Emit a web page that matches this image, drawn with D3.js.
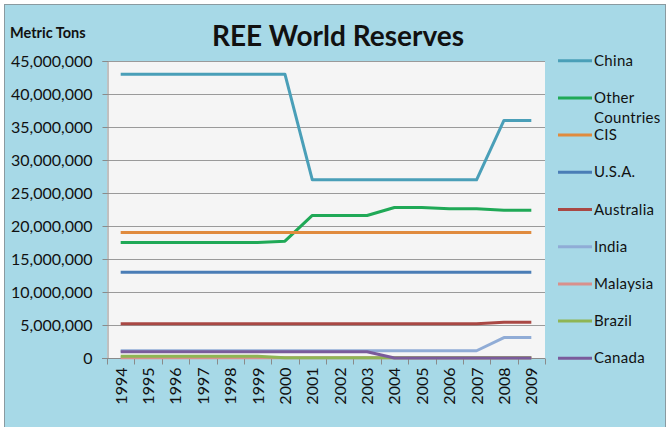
<!DOCTYPE html>
<html>
<head>
<meta charset="utf-8">
<script src="https://cdn.jsdelivr.net/npm/d3@7"></script>
<style>
  body { margin: 0; background: #fff; }
  text { font-family: Lato, "Open Sans", sans-serif; fill: #111; }
</style>
</head>
<body>
<div id="chart"></div>
<script>
// Years on the x axis
var years = ["1994","1995","1996","1997","1998","1999","2000","2001",
             "2002","2003","2004","2005","2006","2007","2008","2009"];

// Reserves in metric tons, one array per country
var china     = [43e6,43e6,43e6,43e6,43e6,43e6,43e6,27e6,27e6,27e6,27e6,27e6,27e6,27e6,36e6,36e6];
var other     = [17.5e6,17.5e6,17.5e6,17.5e6,17.5e6,17.5e6,17.7e6,21.6e6,21.6e6,21.6e6,22.8e6,22.8e6,22.6e6,22.6e6,22.4e6,22.4e6];
var cis       = [19e6,19e6,19e6,19e6,19e6,19e6,19e6,19e6,19e6,19e6,19e6,19e6,19e6,19e6,19e6,19e6];
var usa       = [13e6,13e6,13e6,13e6,13e6,13e6,13e6,13e6,13e6,13e6,13e6,13e6,13e6,13e6,13e6,13e6];
var australia = [5.2e6,5.2e6,5.2e6,5.2e6,5.2e6,5.2e6,5.2e6,5.2e6,5.2e6,5.2e6,5.2e6,5.2e6,5.2e6,5.2e6,5.4e6,5.4e6];
var india     = [1.1e6,1.1e6,1.1e6,1.1e6,1.1e6,1.1e6,1.1e6,1.1e6,1.1e6,1.1e6,1.1e6,1.1e6,1.1e6,1.1e6,3.1e6,3.1e6];
var malaysia  = [30000,30000,30000,30000,30000,30000,30000,30000,30000,30000,30000,30000,30000,30000,30000,30000];
var brazil    = [280000,280000,280000,280000,280000,280000,48000,48000,48000,48000,48000,48000,48000,48000,48000,48000];
var canada    = [940000,940000,940000,940000,940000,940000,940000,940000,940000,940000,0,0,0,0,0,0];

var seriesNames  = ["China","Other Countries","CIS","U.S.A.","Australia","India","Malaysia","Brazil","Canada"];
var seriesValues = [china, other, cis, usa, australia, india, malaysia, brazil, canada];
var seriesColors = ["#4a9fb8","#20a957","#e08b3e","#4a7db6","#a94844","#90acd6","#d9908c","#8fb554","#7a5b9b"];

var yTicks = [0,5e6,10e6,15e6,20e6,25e6,30e6,35e6,40e6,45e6];

var W = 668, H = 427;
var plot = { left: 107, right: 545, top: 61, bottom: 358 };

var svg = d3.select("#chart").append("svg")
    .attr("width", W)
    .attr("height", H);

// Chart background and border
svg.append("rect")
    .attr("x", 4.5).attr("y", 4.5)
    .attr("width", 661).attr("height", 424)
    .attr("fill", "#a7d9e7")
    .attr("stroke", "#8a9aa0");

// Plot area
svg.append("rect")
    .attr("x", plot.left).attr("y", plot.top)
    .attr("width", plot.right - plot.left).attr("height", plot.bottom - plot.top)
    .attr("fill", "#f5f5f5");

var x = d3.scaleBand()
    .domain(years)
    .range([plot.left, plot.right]);

var y = d3.scaleLinear()
    .domain([0, 45e6])
    .range([plot.bottom, plot.top]);

// Gridlines
svg.append("g")
    .selectAll("line")
    .data(yTicks.slice(1))
    .enter().append("line")
    .attr("x1", plot.left).attr("x2", plot.right)
    .attr("y1", function (d) { return Math.round(y(d)) + 0.5; })
    .attr("y2", function (d) { return Math.round(y(d)) + 0.5; })
    .attr("stroke", "#9a9a9a")
    .attr("stroke-width", 1);

// Y axis
var yAxis = svg.append("g")
    .attr("transform", "translate(" + (plot.left + 0.5) + ",0)")
    .call(d3.axisLeft(y).tickValues(yTicks).tickFormat(d3.format(",")).tickSizeOuter(0).tickSize(5).tickPadding(10));
yAxis.selectAll("text").style("font-size", "16px").style("font-family", "Lato, sans-serif").attr("fill", "#111");
yAxis.selectAll("line,path").attr("stroke", "#8a8a8a");

// X axis: ticks sit between categories
var xAxis = svg.append("g")
    .attr("transform", "translate(0," + (plot.bottom + 0.5) + ")");
xAxis.append("line")
    .attr("x1", plot.left - 5).attr("x2", plot.right)
    .attr("stroke", "#8a8a8a");
xAxis.selectAll(".tick")
    .data(years.concat(["end"]))
    .enter().append("line")
    .attr("x1", function (d, i) { return Math.round(plot.left + i * x.step()) + 0.5; })
    .attr("x2", function (d, i) { return Math.round(plot.left + i * x.step()) + 0.5; })
    .attr("y1", 0).attr("y2", 6)
    .attr("stroke", "#8a8a8a");
xAxis.selectAll("text")
    .data(years)
    .enter().append("text")
    .attr("transform", function (d) {
        return "translate(" + (x(d) + x.bandwidth() / 2 + 6) + ",9) rotate(-90)";
    })
    .attr("text-anchor", "end")
    .style("font-size", "16px")
    .text(function (d) { return d; });

// Lines
var line = d3.line()
    .x(function (d, i) { return x(years[i]) + x.bandwidth() / 2; })
    .y(function (d) { return y(d); });

svg.append("g")
    .selectAll("path")
    .data(seriesValues)
    .enter().append("path")
    .attr("d", line)
    .attr("fill", "none")
    .attr("stroke", function (d, i) { return seriesColors[i]; })
    .attr("stroke-width", 3)
    .attr("stroke-linejoin", "round");

// Legend
var legend = svg.append("g")
    .selectAll("g")
    .data(seriesNames)
    .enter().append("g")
    .attr("transform", function (d, i) { return "translate(558," + (60.7 + i * 37.2) + ")"; });

legend.append("line")
    .attr("x1", 0).attr("x2", 34)
    .attr("stroke", function (d, i) { return seriesColors[i]; })
    .attr("stroke-width", 3);

legend.append("text")
    .attr("x", 36)
    .attr("y", 5)
    .style("font-size", "15px")
    .style("letter-spacing", "0.3px")
    .each(function (d) {
        var words = d.split(" ");
        var t = d3.select(this);
        words.forEach(function (w, k) {
            t.append("tspan").attr("x", 36).attr("dy", k === 0 ? 0 : 20).text(w);
        });
    });

// Title and axis caption
svg.append("text")
    .attr("x", 338).attr("y", 46)
    .attr("text-anchor", "middle")
    .style("font-size", "28px")
    .style("font-weight", "bold")
    .text("REE World Reserves");

svg.append("text")
    .attr("x", 10).attr("y", 38)
    .style("font-size", "14.5px")
    .style("font-weight", "bold")
    .text("Metric Tons");
</script>
</body>
</html>
